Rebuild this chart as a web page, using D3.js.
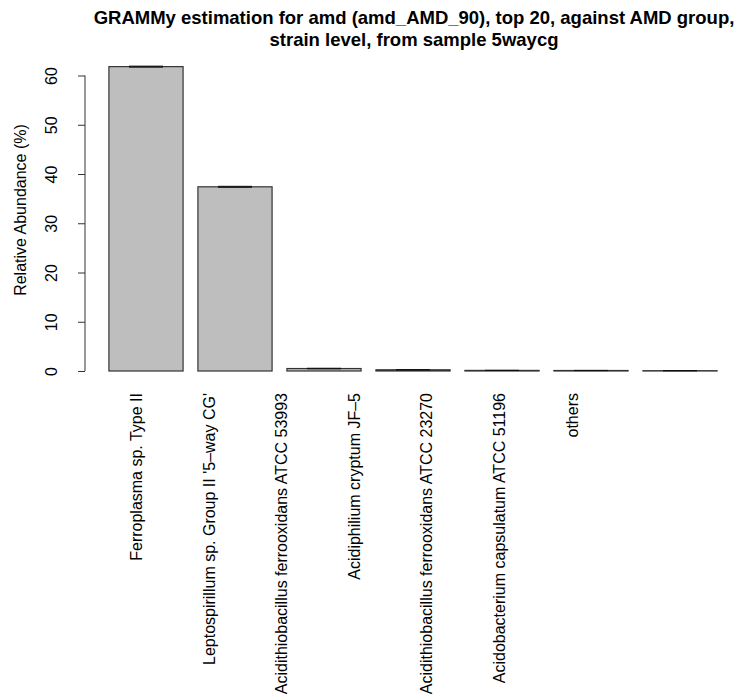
<!DOCTYPE html>
<html><head><meta charset="utf-8">
<script src="https://cdn.jsdelivr.net/npm/d3@7"></script>
<style>body{margin:0;background:#fff}svg{display:block}text{font-family:"Liberation Sans",Arial,Helvetica,sans-serif}</style>
</head><body><svg id="c" width="736" height="695"></svg>
<script>
const categories = ["Ferroplasma sp. Type II","Leptospirillum sp. Group II '5\u2013way CG'","Acidithiobacillus ferrooxidans ATCC 53993","Acidiphilium cryptum JF\u20135","Acidithiobacillus ferrooxidans ATCC 23270","Acidobacterium capsulatum ATCC 51196","others"];
const values = [61.8, 37.4, 0.5, 0.25, 0.12, 0.1, 0.06];
const errors = [0.1, 0.1, 0.05, 0.03, 0.02, 0.02, 0.01];
const yTicks = [0,10,20,30,40,50,60];
const titleLines = ["GRAMMy estimation for amd (amd_AMD_90), top 20, against AMD group,","strain level, from sample 5waycg"];

const svg = d3.select("#c");
const y = d3.scaleLinear().domain([0,60]).range([371,75.5]);
const x = d3.scaleBand().domain(categories).range([101.5,724.5]).paddingInner(0.1667).paddingOuter(0.0833);
const xl = d3.scalePoint().domain(categories).range([136,571.6]);

svg.selectAll("rect.bar").data(categories).join("rect").attr("class","bar")
  .attr("x",d=>x(d)).attr("width",x.bandwidth())
  .attr("y",(d,i)=>y(values[i])).attr("height",(d,i)=>y(0)-y(values[i]))
  .attr("fill","#bebebe").attr("stroke","#333").attr("stroke-width",1.2);

// error bars
const g = svg.append("g");
categories.forEach((d,i)=>{
  const cx = x(d)+x.bandwidth()/2;
  [values[i]+errors[i], values[i]-errors[i]].forEach(v=>{
    g.append("line").attr("x1",cx-17).attr("x2",cx+17).attr("y1",y(v)).attr("y2",y(v)).attr("stroke","#111").attr("stroke-width",1);
  });
});

// y axis
const ya = svg.append("g").attr("transform","translate(85,0)")
  .call(d3.axisLeft(y).tickValues(yTicks).tickSize(7).tickPadding(0).tickFormat(d3.format("d")));
ya.select(".domain").attr("stroke","#333").attr("d","M0,"+y(0)+"V"+y(60));
ya.selectAll(".tick line").attr("stroke","#333").attr("x2",-7);
ya.selectAll(".tick text").attr("transform","rotate(-90)").attr("x",0).attr("y",-28.5).attr("dy",0)
  .attr("text-anchor","middle").attr("font-size",16).attr("fill","#000").style("font-family",'"Liberation Sans",Arial,sans-serif');

svg.append("text").attr("transform","translate(26,210) rotate(-90)").attr("text-anchor","middle")
  .attr("font-size",16).text("Relative Abundance (%)");

// category labels
svg.selectAll("text.cat").data(categories).join("text").attr("class","cat")
  .attr("transform",d=>`translate(${xl(d)+6},393) rotate(-90)`)
  .attr("text-anchor","end").attr("font-size",16).text(d=>d);

// title
svg.selectAll("text.title").data(titleLines).join("text").attr("class","title")
  .attr("x",414).attr("y",(d,i)=>24+i*22).attr("text-anchor","middle")
  .attr("font-size",18.5).attr("font-weight","bold").text(d=>d);
</script></body></html>
